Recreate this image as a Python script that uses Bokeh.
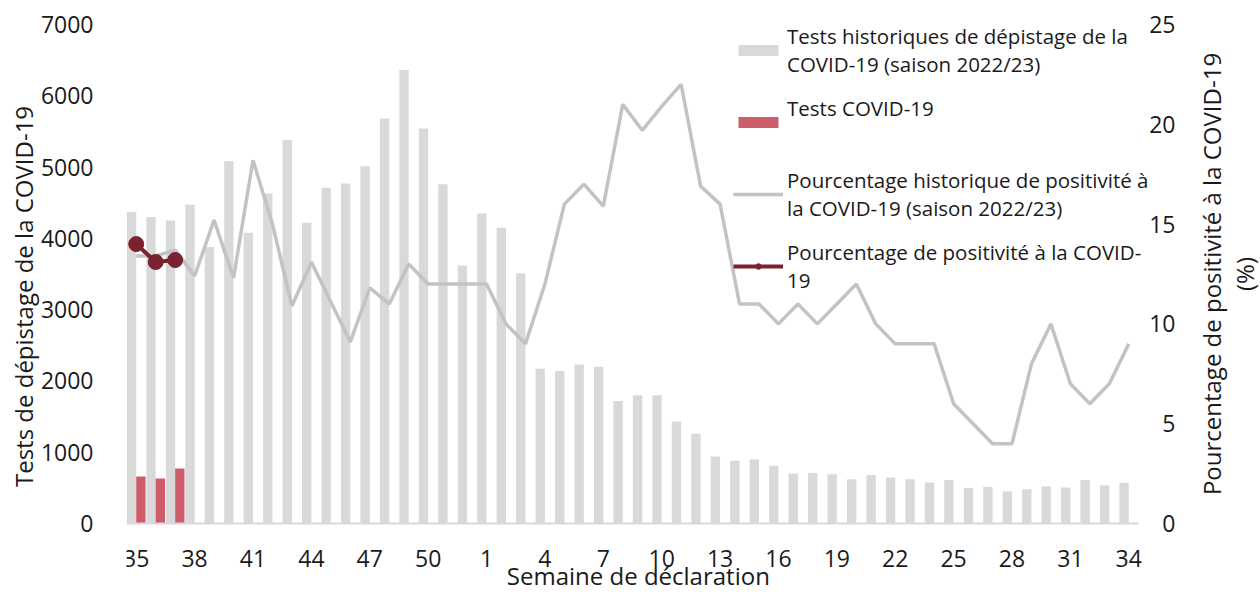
import math
from bokeh.plotting import figure
from bokeh.models import ColumnDataSource, Range1d, FixedTicker, Legend, LegendItem, Label
from bokeh.transform import dodge
from bokeh.core.properties import value
from bokeh.embed import file_html
from bokeh.resources import INLINE

weeks = [str(w) for w in list(range(35, 53)) + list(range(1, 35))]
hist_tests = [4370, 4300, 4250, 4470, 3880, 5080, 4080, 4630, 5380, 4220,
              4710, 4770, 5010, 5680, 6360, 5540, 4760, 3620, 4350, 4150,
              3510, 2170, 2140, 2230, 2200, 1720, 1800, 1800, 1430, 1260,
              940, 880, 900, 810, 700, 710, 690, 620, 680, 645,
              620, 575, 610, 500, 515, 450, 480, 520, 505, 610,
              535, 570]
cur_tests = [660, 630, 770]
hist_pos = [13.4, 13.4, 13.7, 12.4, 15.2, 12.3, 18.2, 15.0, 10.9, 13.1,
            11.1, 9.1, 11.8, 11.0, 13.0, 12.0, 12.0, 12.0, 12.0, 10.0,
            9.0, 12.0, 16.0, 17.0, 15.9, 21.0, 19.7, 20.9, 22.0, 16.9,
            16.0, 11.0, 11.0, 10.0, 11.0, 10.0, 11.0, 12.0, 10.0, 9.0,
            9.0, 9.0, 6.0, 5.0, 4.0, 4.0, 8.0, 10.0, 7.0, 6.0,
            7.0, 9.0]
cur_pos = [14.0, 13.1, 13.2]
left_ticks = [0, 1000, 2000, 3000, 4000, 5000, 6000, 7000]
right_ticks = [0, 5, 10, 15, 20, 25]
left_max, right_max = 7000, 25

# ---- layout geometry (pixels) ----
W, H = 1260, 592
FRAME_L, PLOT_R, PLOT_T, PLOT_B = 126, 1138, 24, 523
n = len(weeks)
px_per_cat = (PLOT_R - FRAME_L) / n
plot_h = PLOT_B - PLOT_T
x_end = -0.5 + (W - FRAME_L) / px_per_cat       # frame runs to the right edge
y_start = -left_max * (H - PLOT_B) / plot_h       # ... and to the bottom edge
y_end = left_max * PLOT_B / plot_h                # ... and to the top edge
y2_start = -right_max * (H - PLOT_B) / plot_h
y2_end = right_max * PLOT_B / plot_h


def dx(px):  # horizontal pixel offset from the plot's right edge -> x data
    return n - 0.5 + px / px_per_cat


def dy(px):  # pixel offset below the baseline -> left-axis data
    return -left_max * px / plot_h


idx = list(range(n))
src_hist = ColumnDataSource(dict(x=idx, tests=hist_tests, pos=hist_pos))
src_cur = ColumnDataSource(dict(x=idx[:len(cur_tests)], tests=cur_tests, pos=cur_pos))

FONT = "Open Sans"
TXT = "#1a1a1a"

p = figure(width=W, height=H, output_backend="svg", toolbar_location=None,
           x_range=Range1d(-0.5, x_end), y_range=Range1d(y_start, y_end),
           min_border_left=FRAME_L, min_border_right=0, min_border_top=0,
           min_border_bottom=0)
p.extra_y_ranges = {"pct": Range1d(y2_start, y2_end)}
p.outline_line_color = None
p.grid.visible = False
p.background_fill_color = "white"
p.xaxis.visible = False

r_hist_bar = p.vbar(x=dodge("x", -0.24), top="tests", width=0.48, source=src_hist,
                    fill_color="#d9d9d9", line_color=None)
r_cur_bar = p.vbar(x=dodge("x", 0.24), top="tests", width=0.48, source=src_cur,
                   fill_color="#cf5c6b", line_color=None)

# category axis baseline
p.line(x=[-0.5, n - 0.5], y=[0, 0], line_color="#d9d9d9", line_width=2)

r_hist_line = p.line(x="x", y="pos", source=src_hist, y_range_name="pct",
                     line_color="#c3c3c3", line_width=3.5)
r_cur_line = p.line(x="x", y="pos", source=src_cur, y_range_name="pct",
                    line_color="#7b2230", line_width=4)
r_cur_pts = p.scatter(x="x", y="pos", source=src_cur, y_range_name="pct",
                      size=15, fill_color="#7b2230", line_color="#7b2230")

# left axis
ya = p.yaxis[0]
ya.ticker = FixedTicker(ticks=left_ticks)
ya.axis_label = "Tests de dépistage de la COVID-19"
ya.major_tick_line_color = None
ya.minor_tick_line_color = None
ya.axis_line_color = None
ya.major_label_text_font = FONT
ya.major_label_text_font_size = "23px"
ya.major_label_text_color = TXT
ya.axis_label_text_font = FONT
ya.axis_label_text_font_size = "24px"
ya.axis_label_text_font_style = "normal"
ya.axis_label_text_color = TXT
ya.major_label_standoff = 27
ya.axis_label_standoff = -2

# category tick labels (every 3rd week) and x title
p.text(x=idx[::3], y=[dy(35)] * len(idx[::3]), text=weeks[::3],
       text_align="center", text_baseline="middle",
       text_font=value(FONT), text_font_size="23px", text_color=TXT)
p.add_layout(Label(x=(n - 1) / 2 + 0.3, y=dy(52), text="Semaine de déclaration",
                   text_align="center", text_baseline="middle",
                   text_font=FONT, text_font_size="24px", text_color=TXT))

# secondary (right) axis: tick labels and title
p.text(x=[dx(37)] * len(right_ticks), y=right_ticks, text=[str(t) for t in right_ticks],
       y_range_name="pct", text_align="right", text_baseline="middle",
       text_font=value(FONT), text_font_size="23px", text_color=TXT)
p.add_layout(Label(x=dx(89), y=right_max / 2, y_range_name="pct",
                   text="Pourcentage de positivité à la COVID-19\n(%)",
                   angle=math.pi / 2, text_align="center", text_baseline="middle",
                   text_line_height=1.0,
                   text_font=FONT, text_font_size="24px", text_color=TXT))

legend = Legend(items=[
    LegendItem(label="Tests historiques de dépistage de la\nCOVID-19 (saison 2022/23)", renderers=[r_hist_bar]),
    LegendItem(label="Tests COVID-19\n ", renderers=[r_cur_bar]),
    LegendItem(label="Pourcentage historique de positivité à\nla COVID-19 (saison 2022/23)", renderers=[r_hist_line]),
    LegendItem(label="Pourcentage de positivité à la COVID-\n19", renderers=[r_cur_line, r_cur_pts]),
], location=(733 - FRAME_L, H - PLOT_T - 270))
legend.label_text_font = FONT
legend.label_text_font_size = "20.5px"
legend.label_text_color = TXT
legend.border_line_color = None
legend.background_fill_alpha = 0
legend.glyph_width = 50
legend.glyph_height = 14
legend.label_standoff = 4
legend.spacing = 16
legend.padding = 0
legend.margin = 0
p.add_layout(legend)

open("out.html", "w").write(file_html(p, INLINE))
